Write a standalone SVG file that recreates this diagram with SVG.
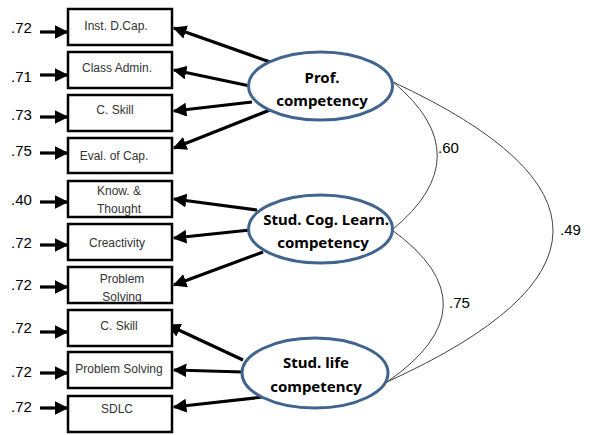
<svg xmlns="http://www.w3.org/2000/svg" width="590" height="435" viewBox="0 0 590 435">
<defs>
<marker id="ah" viewBox="0 0 10 10" refX="9" refY="5" markerWidth="4.3" markerHeight="4.3" orient="auto" markerUnits="strokeWidth">
<path d="M0,0 L10,5 L0,10 z" fill="#000"/>
</marker>
<style>
.box{fill:#fff;stroke:#000;stroke-width:2.5}
.bt{font-family:"Liberation Sans",Arial,sans-serif;font-size:12px;fill:#333;text-anchor:middle}
.el{fill:#fff;stroke:#41648f;stroke-width:3}
.et{font-family:"Noto Sans","Open Sans",sans-serif;font-size:15px;font-weight:bold;fill:#000;text-anchor:middle}
.lbl{font-family:"Liberation Sans",Arial,sans-serif;font-size:15px;fill:#000}
.arr{stroke:#000;stroke-width:3.2;fill:none;marker-end:url(#ah)}
.cov{stroke:#444;stroke-width:1;fill:none}
</style>
</defs>
<rect width="590" height="435" fill="#fff"/>

<g id="connectors">
<line class="arr" x1="40" y1="32" x2="67" y2="32"/>
<line class="arr" x1="40" y1="75" x2="67" y2="75"/>
<line class="arr" x1="40" y1="117" x2="67" y2="117"/>
<line class="arr" x1="40" y1="153" x2="67" y2="153"/>
<line class="arr" x1="40" y1="202" x2="67" y2="202"/>
<line class="arr" x1="40" y1="245" x2="67" y2="245"/>
<line class="arr" x1="40" y1="287" x2="67" y2="287"/>
<line class="arr" x1="40" y1="332" x2="67" y2="332"/>
<line class="arr" x1="40" y1="373" x2="67" y2="373"/>
<line class="arr" x1="40" y1="408" x2="67" y2="408"/>
<line class="arr" x1="270" y1="62" x2="174" y2="28"/>
<line class="arr" x1="250" y1="86" x2="174" y2="70"/>
<line class="arr" x1="252" y1="102" x2="174" y2="111"/>
<line class="arr" x1="270" y1="110" x2="174" y2="148"/>
<line class="arr" x1="257" y1="210" x2="174" y2="199"/>
<line class="arr" x1="250" y1="230" x2="174" y2="238"/>
<line class="arr" x1="263" y1="252" x2="174" y2="285"/>
<line class="arr" x1="243" y1="360" x2="168" y2="325"/>
<line class="arr" x1="243" y1="372" x2="174" y2="370"/>
<line class="arr" x1="263" y1="397" x2="174" y2="407"/>
<path class="cov" d="M393,82 Q482,156 392,230"/>
<path class="cov" d="M393,82 Q716,232 387,382"/>
<path class="cov" d="M392,230 Q497,306 387,382"/>
<text class="lbl" x="438" y="153">.60</text>
<text class="lbl" x="560" y="235">.49</text>
<text class="lbl" x="449" y="308">.75</text>
</g>

<g id="errors">
<text class="lbl" x="11" y="33">.72</text>
<text class="lbl" x="11" y="82">.71</text>
<text class="lbl" x="11" y="120">.73</text>
<text class="lbl" x="11" y="156">.75</text>
<text class="lbl" x="11" y="205">.40</text>
<text class="lbl" x="11" y="248">.72</text>
<text class="lbl" x="11" y="290">.72</text>
<text class="lbl" x="11" y="333">.72</text>
<text class="lbl" x="11" y="377">.72</text>
<text class="lbl" x="11" y="412">.72</text>
</g>

<g id="box1"><rect class="box" x="68" y="9" width="104" height="36"/><text class="bt" x="116" y="30">Inst. D.Cap.</text></g>
<g id="box2"><rect class="box" x="68" y="52" width="104" height="36"/><text class="bt" x="117" y="72">Class Admin.</text></g>
<g id="box3"><rect class="box" x="68" y="95" width="104" height="36"/><text class="bt" x="115" y="114">C. Skill</text></g>
<g id="box4"><rect class="box" x="68" y="138" width="104" height="35"/><text class="bt" x="114" y="160">Eval. of Cap.</text></g>
<g id="box5"><rect class="box" x="68" y="181" width="104" height="36"/><text class="bt" x="119" y="195">Know. &amp;</text><text class="bt" x="119" y="213">Thought</text></g>
<g id="box6"><rect class="box" x="68" y="224" width="104" height="36"/><text class="bt" x="117" y="247">Creactivity</text></g>
<g id="box7"><rect class="box" x="68" y="267" width="104" height="36"/><text class="bt" x="122" y="283">Problem</text><text class="bt" x="122" y="301">Solving</text></g>
<g id="box8"><rect class="box" x="68" y="310" width="104" height="36"/><text class="bt" x="119" y="330">C. Skill</text></g>
<g id="box9"><rect class="box" x="68" y="352" width="104" height="36"/><text class="bt" x="119" y="373">Problem  Solving</text></g>
<g id="box10"><rect class="box" x="68" y="396" width="104" height="36"/><text class="bt" x="117" y="413">SDLC</text></g>

<g id="prof"><ellipse class="el" cx="320.5" cy="86" rx="72" ry="34"/><text class="et" x="322" y="83">Prof.</text><text class="et" x="322" y="106">competency</text></g>
<g id="cog"><ellipse class="el" cx="320.5" cy="229" rx="72" ry="34"/><text class="et" x="326" y="225">Stud. Cog. Learn.</text><text class="et" x="323" y="248">competency</text></g>
<g id="life"><ellipse class="el" cx="315" cy="373" rx="73" ry="35"/><text class="et" x="316" y="368">Stud. life</text><text class="et" x="316" y="392">competency</text></g>
</svg>
